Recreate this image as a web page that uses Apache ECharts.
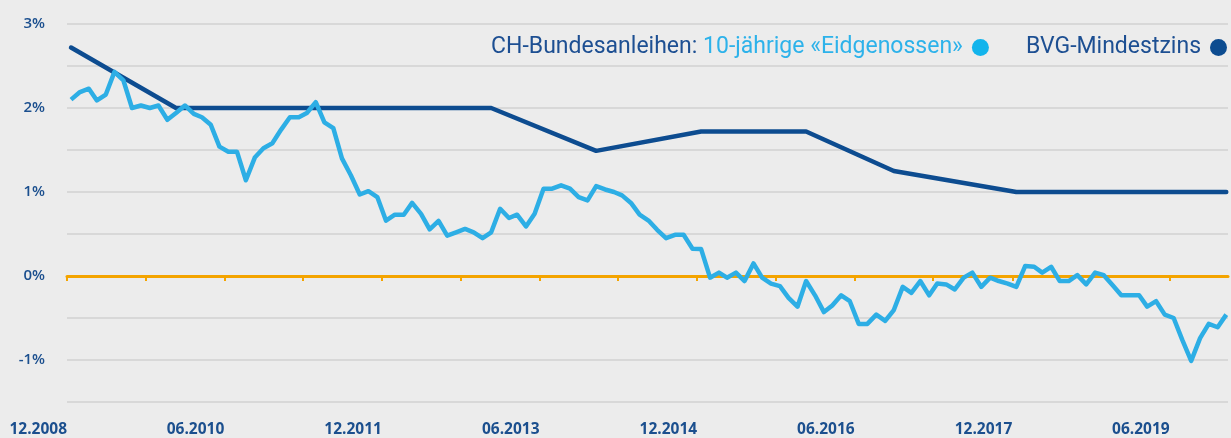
<!DOCTYPE html>
<html>
<head>
<meta charset="utf-8">
<script src="https://cdn.jsdelivr.net/npm/echarts@6/dist/echarts.min.js"></script>
<style>
  html, body { margin: 0; padding: 0; background: #ececec; }
  #chart { width: 1231px; height: 438px; }
</style>
</head>
<body>
<div id="chart"></div>
<script>
// monthly 10y yield, 12.2008 .. 12.2019
const yieldStart = '2008-12';
const yieldValues = [
  2.10, 2.19, 2.23, 2.09, 2.16, 2.43, 2.33, 2.00, 2.03, 2.00,
  2.03, 1.86, 1.94, 2.03, 1.93, 1.89, 1.80, 1.54, 1.48, 1.48,
  1.14, 1.41, 1.52, 1.58, 1.74, 1.89, 1.89, 1.94, 2.07, 1.83,
  1.76, 1.40, 1.20, 0.97, 1.01, 0.94, 0.66, 0.73, 0.73, 0.87,
  0.74, 0.555, 0.655, 0.48, 0.52, 0.56, 0.52, 0.45, 0.52, 0.80,
  0.69, 0.73, 0.59, 0.74, 1.04, 1.04, 1.08, 1.04, 0.94, 0.90,
  1.07, 1.03, 1.00, 0.96, 0.87, 0.73, 0.66, 0.55, 0.45, 0.49,
  0.49, 0.325, 0.32, -0.02, 0.04, -0.02, 0.04, -0.06, 0.15, -0.02,
  -0.09, -0.12, -0.26, -0.365, -0.06, -0.23, -0.43, -0.35, -0.23, -0.30,
  -0.57, -0.57, -0.46, -0.535, -0.405, -0.13, -0.20, -0.06, -0.23, -0.09,
  -0.10, -0.16, -0.02, 0.04, -0.13, -0.02, -0.06, -0.09, -0.13, 0.12,
  0.11, 0.04, 0.11, -0.06, -0.06, 0.01, -0.10, 0.04, 0.01, -0.11,
  -0.23, -0.23, -0.23, -0.365, -0.30, -0.46, -0.50, -0.76, -1.01, -0.74,
  -0.57, -0.61, -0.46
];

// BVG minimum rate, break points
const bvgMonths = ['2008-12', '2009-12', '2012-12', '2013-12', '2014-12', '2015-12', '2016-10', '2017-12', '2019-12'];
const bvgValues = [2.72, 2.0, 2.0, 1.49, 1.72, 1.72, 1.25, 1.0, 1.0];

const tickMonths = ['2008-12', '2009-09', '2010-06', '2011-03', '2011-12', '2012-09', '2013-06', '2014-03',
  '2014-12', '2015-09', '2016-06', '2017-03', '2017-12', '2018-09', '2019-06'];
const labelMonths = ['2008-12', '2010-06', '2011-12', '2013-06', '2014-12', '2016-06', '2017-12', '2019-06'];

const yieldName = 'CH-Bundesanleihen: 10-jährige «Eidgenossen»';
const bvgName = 'BVG-Mindestzins';

const darkBlue = '#0d4c90';
const lightBlue = '#2daee5';
const orange = '#f4a400';
const labelColor = '#1b4f8e';

function monthTime(ym, day) {
  const [y, m] = ym.split('-').map(Number);
  return new Date(y, m - 1, day).getTime();
}
function fmtMonth(v) {
  const d = new Date(v);
  return String(d.getMonth() + 1).padStart(2, '0') + '.' + d.getFullYear();
}

const [sy, sm] = yieldStart.split('-').map(Number);
const yieldData = yieldValues.map((v, i) => [new Date(sy, sm - 1 + i, 15).getTime(), v]);
const bvgData = bvgMonths.map((m, i) => [monthTime(m, 15), bvgValues[i]]);

const axisMin = monthTime('2008-12', 1);
const axisMax = monthTime('2019-12', 21);

const myChart = echarts.init(document.getElementById('chart'));
const option = {
  backgroundColor: '#ececec',
  animation: false,
  grid: { left: 67, right: 3, top: 24, bottom: 36 },
  legend: {
    top: 36,
    right: 4,
    padding: 0,
    align: 'right',
    icon: 'circle',
    itemWidth: 17,
    itemHeight: 17,
    itemGap: 37,
    data: [
      { name: yieldName, itemStyle: { color: '#12b4ec' } },
      { name: bvgName, itemStyle: { color: darkBlue } }
    ],
    formatter: (name) => {
      if (name === yieldName) {
        return '{a|CH-Bundesanleihen: }{b|10-jährige «Eidgenossen»}';
      }
      return '{c|' + name + '}';
    },
    textStyle: {
      fontFamily: 'Roboto',
      fontSize: 23,
      rich: {
        a: { color: '#1d4f92', fontFamily: 'Roboto', fontSize: 23 },
        b: { color: '#2db2ea', fontFamily: 'Roboto', fontSize: 23, padding: [0, 4, 0, 0] },
        c: { color: '#1d4f92', fontFamily: 'Roboto', fontSize: 23, padding: [0, 4, 0, 0] }
      }
    }
  },
  xAxis: [
    {
      type: 'value',
      position: 'bottom',
      min: axisMin,
      max: axisMax,
      axisLine: { onZero: true, lineStyle: { color: orange, width: 3 } },
      axisTick: {
        show: true,
        customValues: tickMonths.map((m) => monthTime(m, 1)),
        length: 5,
        lineStyle: { color: orange, width: 2 }
      },
      axisLabel: { show: false },
      splitLine: { show: false }
    },
    {
      type: 'value',
      position: 'bottom',
      min: axisMin,
      max: axisMax,
      axisLine: { show: false, onZero: false },
      axisTick: { show: false },
      axisLabel: {
        customValues: labelMonths.map((m) => monthTime(m, 1)),
        formatter: fmtMonth,
        align: 'right',
        margin: 20,
        color: labelColor,
        fontFamily: 'Open Sans',
        fontWeight: 'bold',
        fontSize: 15.5
      },
      splitLine: { show: false }
    }
  ],
  yAxis: {
    type: 'value',
    min: -1.5,
    max: 3,
    interval: 0.5,
    axisLine: { show: false },
    axisTick: { show: false },
    axisLabel: {
      formatter: (v) => (Number.isInteger(v) ? v + '%' : ''),
      margin: 22,
      color: labelColor,
      fontFamily: 'Open Sans',
      fontWeight: 600,
      fontSize: 15
    },
    splitLine: { lineStyle: { color: '#d8d8d8', width: 2 } }
  },
  series: [
    {
      name: bvgName,
      type: 'line',
      data: bvgData,
      symbol: 'none',
      lineStyle: { color: darkBlue, width: 4.5, cap: 'round', join: 'round' },
      itemStyle: { color: darkBlue },
      z: 2
    },
    {
      name: yieldName,
      type: 'line',
      data: yieldData,
      symbol: 'none',
      lineStyle: { color: lightBlue, width: 4.5, join: 'round' },
      itemStyle: { color: '#12b4ec' },
      z: 3
    }
  ]
};
myChart.setOption(option);
</script>
</body>
</html>
